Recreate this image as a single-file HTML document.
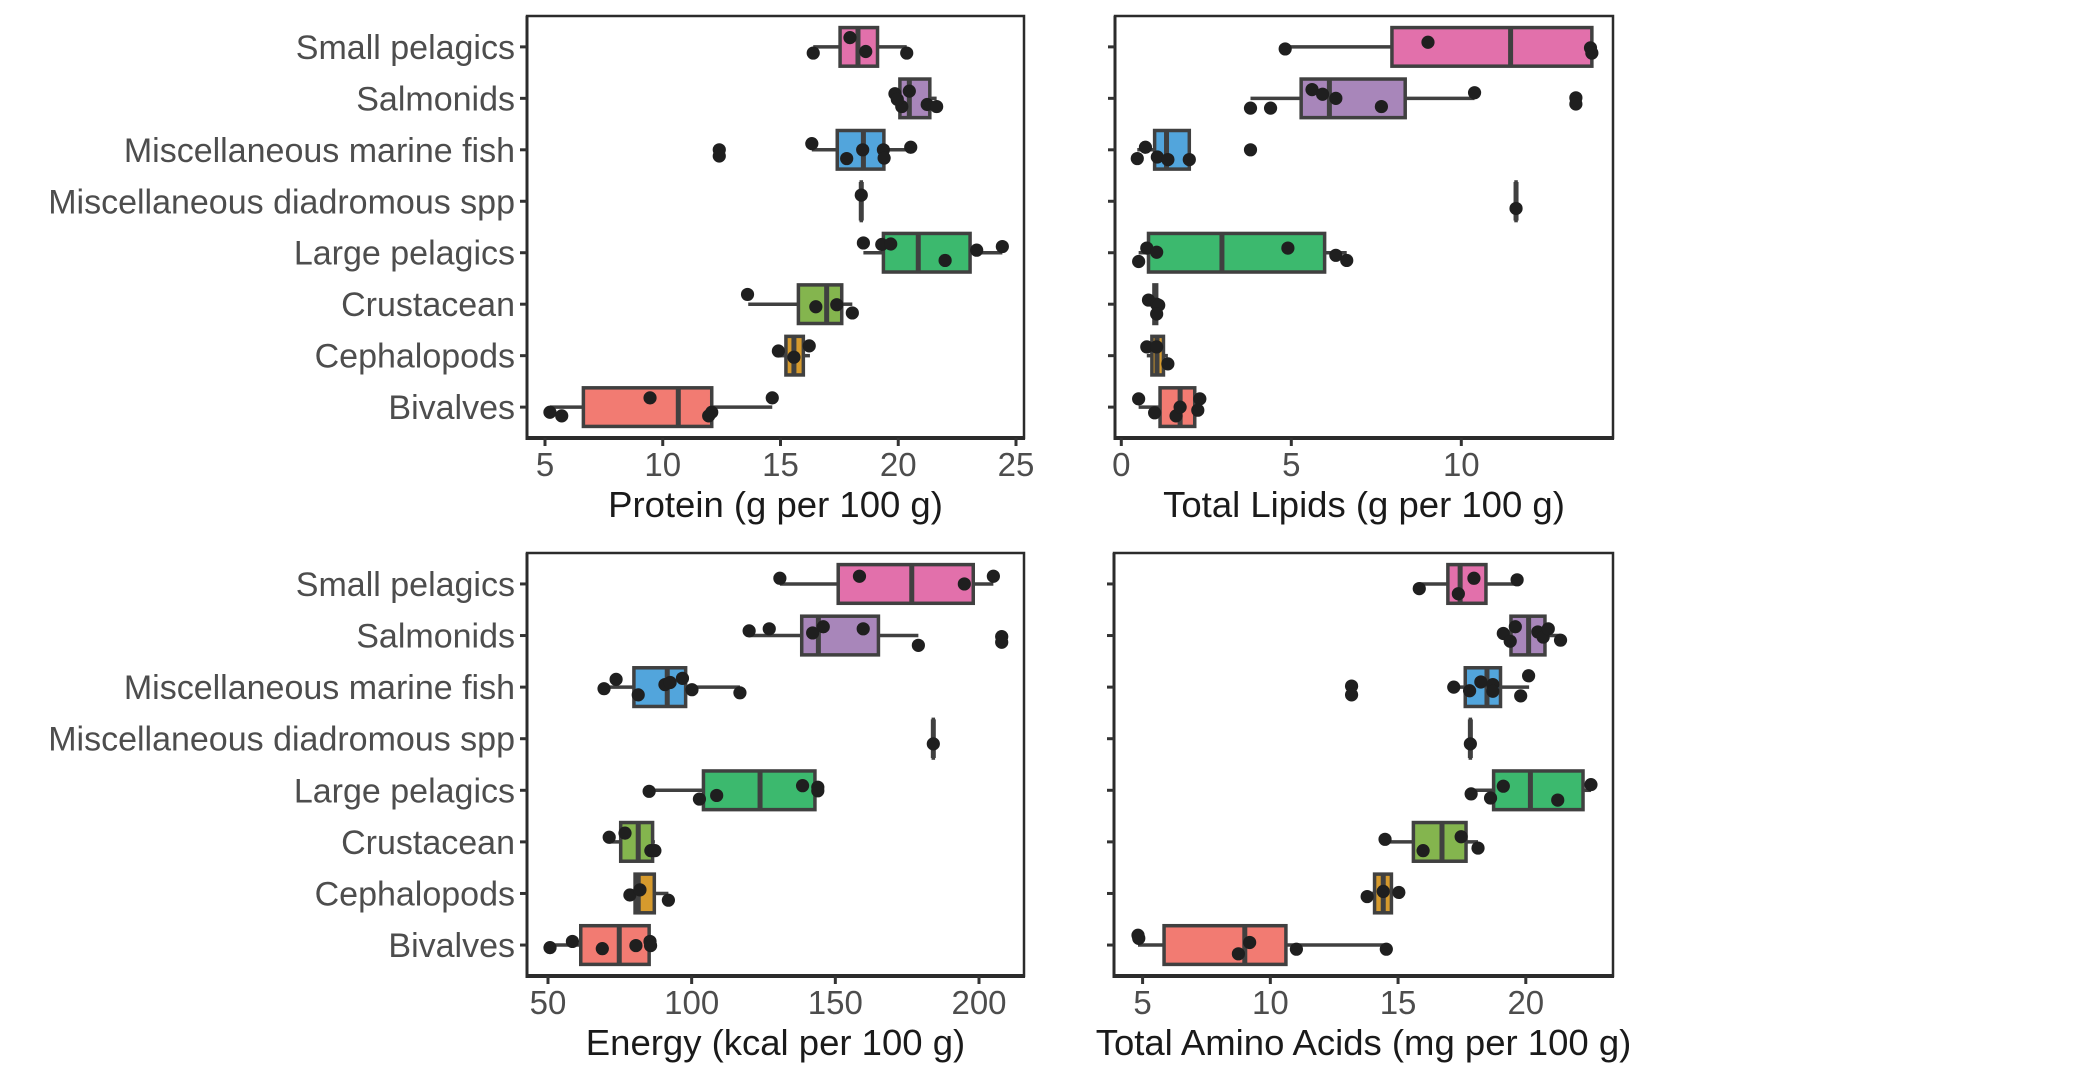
<!DOCTYPE html>
<html><head><meta charset="utf-8">
<style>
html,body{margin:0;padding:0;background:#fff;}
svg{display:block;}
text{font-family:"Liberation Sans",Arial,sans-serif;}
</style></head>
<body>
<svg id="chart" width="2080" height="1074" viewBox="0 0 2080 1074" xmlns="http://www.w3.org/2000/svg"></svg>
<script>
// ---------- data ----------
const categories = ["Small pelagics","Salmonids","Miscellaneous marine fish","Miscellaneous diadromous spp","Large pelagics","Crustacean","Cephalopods","Bivalves"];
const fillColors = ["#E270AB","#A886BA","#52A5DC","#3CB96E","#3CB96E","#84B54E","#D69A2D","#F27B72"];

// Protein
const proteinQ1  = [17.53,20.07,17.41,18.43,19.37,15.76,15.23,6.63];
const proteinMed = [18.29,20.47,18.52,18.43,20.85,16.96,15.57,10.66];
const proteinQ3  = [19.12,21.34,19.39,18.43,23.05,17.60,15.97,12.08];
const proteinLo  = [16.39,19.86,16.33,18.43,18.52,13.63,14.91,5.21];
const proteinHi  = [20.36,21.63,20.53,18.43,24.42,18.05,16.25,14.65];
const proteinPts = [[0,17.95,-0.18],[0,18.62,0.09],[0,16.39,0.12],[0,20.36,0.12],
 [1,19.86,-0.09],[1,20.47,-0.14],[1,20.15,0.16],[1,21.23,0.12],[1,21.63,0.16],[1,19.96,0.02],
 [2,16.33,-0.12],[2,20.53,-0.05],[2,17.81,0.17],[2,18.49,0],[2,19.37,0],[2,19.40,0.16],[2,12.40,0],[2,12.40,0.12],
 [3,18.43,-0.12],
 [4,18.52,-0.19],[4,19.30,-0.16],[4,19.68,-0.17],[4,23.33,-0.05],[4,24.42,-0.12],[4,21.99,0.15],
 [5,13.60,-0.19],[5,16.50,0.05],[5,17.39,0.01],[5,18.05,0.17],
 [6,14.91,-0.09],[6,15.57,0.03],[6,16.22,-0.19],
 [7,5.21,0.10],[7,5.71,0.17],[7,9.46,-0.18],[7,11.95,0.17],[7,12.08,0.10],[7,14.65,-0.18]];
const proteinTicks = [5,10,15,20,25];

// Lipids
const lipidQ1  = [7.96,5.29,0.98,11.61,0.80,0.96,0.90,1.14];
const lipidMed = [11.45,6.12,1.33,11.61,2.96,1.00,1.05,1.73];
const lipidQ3  = [13.84,8.35,2.00,11.61,5.98,1.04,1.24,2.16];
const lipidLo  = [4.82,3.80,0.47,11.61,0.51,0.80,0.75,0.51];
const lipidHi  = [13.84,10.39,2.00,11.61,6.63,1.10,1.37,2.31];
const lipidPts = [[0,4.82,0.04],[0,9.02,-0.09],[0,13.80,0.02],[0,13.84,0.12],
 [1,5.61,-0.17],[1,5.92,-0.08],[1,6.31,0],[1,7.65,0.16],[1,3.80,0.19],[1,4.39,0.19],[1,10.39,-0.11],[1,13.37,-0.01],[1,13.37,0.11],
 [2,0.47,0.17],[2,0.71,-0.05],[2,1.06,0.14],[2,1.37,0.19],[2,2.00,0.19],[2,3.80,0],
 [3,11.61,0.14],
 [4,0.51,0.17],[4,0.75,-0.09],[4,1.04,-0.01],[4,4.90,-0.09],[4,6.31,0.05],[4,6.63,0.15],
 [5,0.80,-0.08],[5,1.04,0],[5,1.10,0.02],[5,1.04,0.19],
 [6,0.75,-0.17],[6,1.04,-0.17],[6,1.37,0.16],
 [7,0.51,-0.16],[7,0.98,0.11],[7,1.61,0.17],[7,1.73,0],[7,2.31,-0.16],[7,2.25,0.06]];
const lipidTicks = [0,5,10];

// Energy
const energyQ1  = [151.0,138.3,79.9,184.1,104.1,75.3,80.3,61.4];
const energyMed = [176.6,144.1,91.5,184.1,123.8,81.4,81.4,74.8];
const energyQ3  = [198.0,165.0,97.9,184.1,142.9,86.4,87.0,85.2];
const energyLo  = [130.7,120.0,69.5,184.1,85.2,71.3,78.5,50.7];
const energyHi  = [205.0,178.9,116.8,184.1,143.9,87.2,91.9,85.7];
const energyPts = [[0,130.7,-0.11],[0,158.4,-0.15],[0,194.9,0],[0,205.0,-0.15],
 [1,120.0,-0.09],[1,127.0,-0.13],[1,142.1,-0.05],[1,145.8,-0.17],[1,159.7,-0.13],[1,178.9,0.19],[1,207.9,0.02],[1,207.9,0.13],
 [2,69.5,0.03],[2,73.7,-0.15],[2,81.4,0.15],[2,90.7,-0.05],[2,92.5,-0.09],[2,96.8,-0.17],[2,100.1,0.05],[2,116.8,0.11],
 [3,184.1,0.10],
 [4,85.2,0.02],[4,102.7,0.17],[4,108.7,0.10],[4,138.6,-0.09],[4,143.9,-0.06],[4,143.9,0.01],
 [5,71.3,-0.09],[5,76.8,-0.17],[5,85.8,0.17],[5,87.2,0.17],
 [6,78.5,0.03],[6,82.0,-0.07],[6,91.9,0.13],
 [7,50.7,0.05],[7,58.5,-0.07],[7,68.9,0.07],[7,80.6,0.01],[7,85.5,-0.07],[7,85.7,0.01]];
const energyTicks = [50,100,150,200];

// Amino acids
const aminoQ1  = [16.95,19.42,17.63,17.83,18.74,15.60,14.08,5.84];
const aminoMed = [17.43,20.11,18.48,17.83,20.18,16.72,14.42,9.00];
const aminoQ3  = [18.44,20.75,19.01,17.83,22.24,17.66,14.74,10.61];
const aminoLo  = [15.83,19.12,17.18,17.83,17.86,14.49,13.79,4.82];
const aminoHi  = [19.66,21.36,20.13,17.83,22.55,18.13,15.03,14.54];
const aminoPts = [[0,15.83,0.09],[0,17.36,0.19],[0,17.97,-0.11],[0,19.66,-0.08],
 [1,19.12,-0.04],[1,19.39,0.11],[1,19.59,-0.17],[1,20.47,-0.07],[1,20.68,0.03],[1,20.88,-0.13],[1,21.36,0.09],
 [2,17.18,0],[2,17.80,0.07],[2,18.24,-0.10],[2,18.71,-0.05],[2,18.71,0.08],[2,19.80,0.17],[2,20.11,-0.22],[2,13.18,-0.02],[2,13.18,0.15],
 [3,17.83,0.10],
 [4,17.86,0.07],[4,18.62,0.15],[4,19.12,-0.08],[4,21.25,0.19],[4,22.55,-0.11],
 [5,14.49,-0.05],[5,15.98,0.17],[5,17.47,-0.10],[5,18.13,0.12],
 [6,13.79,0.06],[6,14.42,-0.04],[6,15.03,-0.02],
 [7,4.82,-0.19],[7,4.85,-0.13],[7,8.75,0.17],[7,9.19,-0.05],[7,11.02,0.08],[7,14.54,0.08]];
const aminoTicks = [5,10,15,20];

// ---------- drawing ----------
const NS = "http://www.w3.org/2000/svg";
const svg = document.getElementById("chart");
function mk(tag, attrs, parent){ const e=document.createElementNS(NS,tag); for(const k in attrs) e.setAttribute(k,attrs[k]); (parent||svg).appendChild(e); return e; }

const panels = [
 {key:"protein", title:"Protein (g per 100 g)", q1:proteinQ1,med:proteinMed,q3:proteinQ3,lo:proteinLo,hi:proteinHi,pts:proteinPts,ticks:proteinTicks,
  left:527,right:1024,top:16,bottom:438,d0:5,d1:25,r0:545,r1:1016,labels:true},
 {key:"lipids", title:"Total Lipids (g per 100 g)", q1:lipidQ1,med:lipidMed,q3:lipidQ3,lo:lipidLo,hi:lipidHi,pts:lipidPts,ticks:lipidTicks,
  left:1115,right:1613,top:16,bottom:438,d0:0,d1:10,r0:1121.3,r1:1461.3,labels:false},
 {key:"energy", title:"Energy (kcal per 100 g)", q1:energyQ1,med:energyMed,q3:energyQ3,lo:energyLo,hi:energyHi,pts:energyPts,ticks:energyTicks,
  left:527,right:1024,top:553,bottom:976,d0:50,d1:200,r0:548,r1:979,labels:true},
 {key:"amino", title:"Total Amino Acids (mg per 100 g)", q1:aminoQ1,med:aminoMed,q3:aminoQ3,lo:aminoLo,hi:aminoHi,pts:aminoPts,ticks:aminoTicks,
  left:1114,right:1613,top:553,bottom:976,d0:5,d1:20,r0:1142.6,r1:1525.8,labels:false}
];

panels.forEach(p=>{
  const g = mk("g",{});
  
  
  const xs = v => p.r0 + (v-p.d0)*(p.r1-p.r0)/(p.d1-p.d0);
  const step = (p.bottom-p.top)/8.2;
  const ys = i => p.top + step*(0.6+i);
  const hb = step*0.375;

  const fr = mk("rect",{x:p.left,y:p.top,width:p.right-p.left,height:p.bottom-p.top,fill:"none",stroke:"#2b2b2b","stroke-width":2.5},g);
  
  
  const ax = mk("line",{x1:p.left-1,x2:p.right+1,y1:p.bottom,y2:p.bottom,stroke:"#2b2b2b","stroke-width":4},g);
  
  
  const ay = mk("line",{x1:p.left,x2:p.left,y1:p.top,y2:p.bottom+2,stroke:"#2b2b2b","stroke-width":3},g);
  
  

  categories.forEach((c,i)=>{
    const t = mk("line",{x1:p.left-7,x2:p.left,y1:ys(i),y2:ys(i),stroke:"#333","stroke-width":3},g);
    
    
    if(p.labels){
      const tx = mk("text",{x:p.left-12,y:ys(i)+12,"text-anchor":"end","font-size":34,fill:"#4d4d4d"},g);
      tx.textContent = c;
      
      
    }
  });
  p.ticks.forEach(v=>{
    const t = mk("line",{x1:xs(v),x2:xs(v),y1:p.bottom,y2:p.bottom+8,stroke:"#333","stroke-width":3},g);
    
    
    const tx = mk("text",{x:xs(v),y:p.bottom+38,"text-anchor":"middle","font-size":33,fill:"#4d4d4d"},g);
    tx.textContent = v;
    
    
  });
  const tt = mk("text",{x:(p.left+p.right)/2,y:p.bottom+79,"text-anchor":"middle","font-size":36.5,fill:"#1a1a1a"},g);
  tt.textContent = p.title;
  
  

  categories.forEach((c,i)=>{
    const y = ys(i);
    const bg = mk("g",{},g);
    
    
    mk("line",{x1:xs(p.lo[i]),x2:xs(p.q1[i]),y1:y,y2:y,stroke:"#404040","stroke-width":3.5},bg);
    mk("line",{x1:xs(p.q3[i]),x2:xs(p.hi[i]),y1:y,y2:y,stroke:"#404040","stroke-width":3.5},bg);
    const w = Math.max(xs(p.q3[i])-xs(p.q1[i]),0.01);
    mk("rect",{x:xs(p.q1[i]),y:y-hb,width:w,height:2*hb,fill:fillColors[i],stroke:"#404040","stroke-width":3.5},bg);
    mk("line",{x1:xs(p.med[i]),x2:xs(p.med[i]),y1:y-hb,y2:y+hb,stroke:"#404040","stroke-width":5},bg);
  });
  p.pts.forEach(pt=>{
    const c = mk("circle",{cx:xs(pt[1]),cy:ys(pt[0])+pt[2]*step,r:6.6,fill:"#1f1f1f"},g);
    
    
  });
});
</script>
</body></html>
